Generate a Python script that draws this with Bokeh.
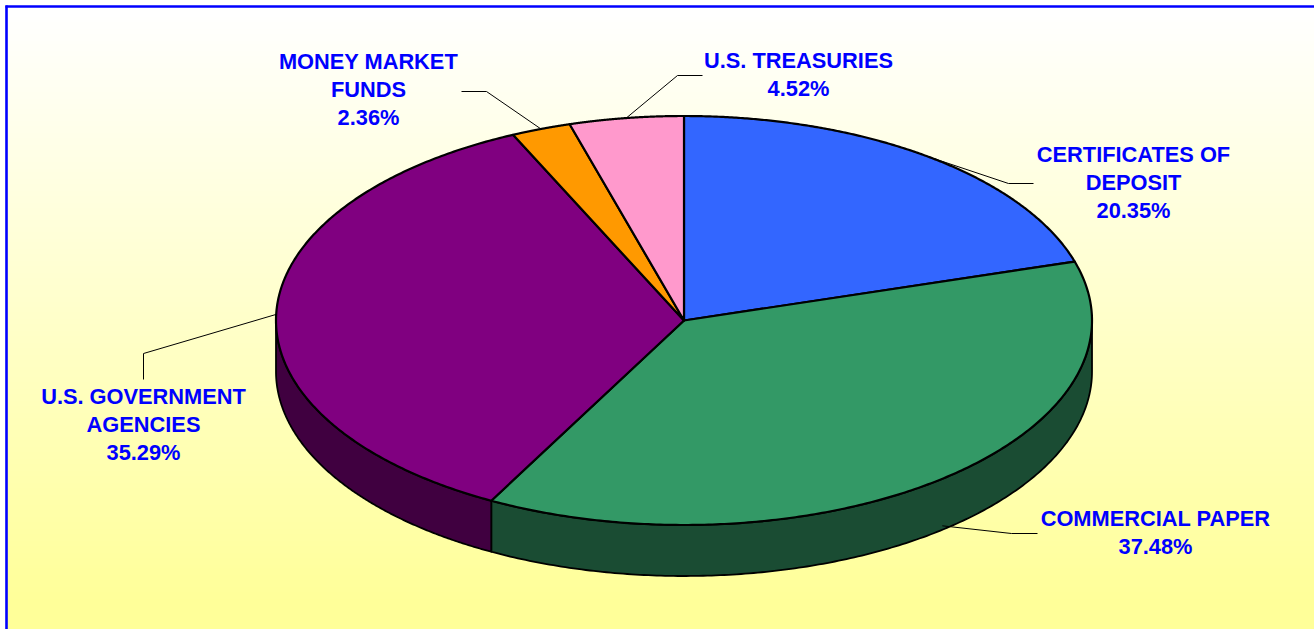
import math
import numpy as np
from bokeh.plotting import figure
from bokeh.embed import file_html
from bokeh.resources import INLINE
from bokeh.core.properties import value

# ---- data ----
categories = ["CERTIFICATES OF DEPOSIT", "COMMERCIAL PAPER", "U.S. GOVERNMENT AGENCIES",
              "MONEY MARKET FUNDS", "U.S. TREASURIES"]
shares = [20.35, 37.48, 35.29, 2.36, 4.52]
label_lines = [["CERTIFICATES OF", "DEPOSIT", "20.35%"],
               ["COMMERCIAL PAPER", "37.48%"],
               ["U.S. GOVERNMENT", "AGENCIES", "35.29%"],
               ["MONEY MARKET", "FUNDS", "2.36%"],
               ["U.S. TREASURIES", "4.52%"]]
top_colors = ["#3366FF", "#339966", "#800080", "#FF9900", "#FF99CC"]
side_colors = ["#1A334D", "#1A4C33", "#400040", "#804C00", "#804C66"]

# ---- layout (reference pixels) ----
W, H = 1314, 629
CX, CY, RX, RY, DEPTH = 683.5, 320, 408, 204.5, 51
label_pos = [(1133, 154), (1155, 518), (143, 396), (368, 61), (798, 60)]
LINE_H = 28
elbows = [[(1008, 183), (1033, 183)], [(1011, 533), (1037, 533)],
          [(143, 353), (143, 379)], [(486, 91), (461, 91)], [(677, 75), (702, 75)]]

p = figure(width=W, height=H, x_range=(0, W), y_range=(H, 0), toolbar_location=None,
           output_backend="svg", min_border=0, outline_line_color=None,
           background_fill_color="white", border_fill_color="white")
p.xaxis.visible = False
p.yaxis.visible = False
p.grid.visible = False


def ex(t):
    return CX + RX * np.sin(t)


def ey(t):
    return CY - RY * np.cos(t)


# background gradient
G_TOP, G_BOT = 6, 600
edges = np.arange(G_TOP, H + 2, 2)
fr = np.clip((edges[:-1] - G_TOP) / (G_BOT - G_TOP), 0, 1)
cols = ["#FFFF%02X" % int(round(255 - (255 - 0x99) * f)) for f in fr]
p.quad(left=6, right=W, top=edges[:-1], bottom=edges[1:] + 0.5, fill_color=cols, line_color=None)
# frame
p.line([6, 6], [H, 5], line_color="#0000FF", line_width=2.6)
p.line([5, W], [6, 6], line_color="#0000FF", line_width=2.6)

cum = np.cumsum([0] + shares) / 100 * 2 * math.pi

# side walls: only the part of each slice facing the viewer
for i in range(len(shares)):
    a, b = max(cum[i], math.pi / 2), min(cum[i + 1], 3 * math.pi / 2)
    if b <= a:
        continue
    t = np.linspace(a, b, 200)
    xs = np.concatenate([ex(t), ex(t[::-1])])
    ys = np.concatenate([ey(t), ey(t[::-1]) + DEPTH])
    p.patch(xs, ys, fill_color=side_colors[i], line_color="black", line_width=1.8, line_join="round")

# leader lines
for i in range(len(shares)):
    mid = (cum[i] + cum[i + 1]) / 2
    x0, y0 = ex(mid), ey(mid)
    if math.pi / 2 < mid < 3 * math.pi / 2 and abs(mid - math.pi) < 1.0:
        y0 += DEPTH - 4
    xs = [x0] + [e[0] for e in elbows[i]]
    ys = [y0] + [e[1] for e in elbows[i]]
    p.line(xs, ys, line_color="black", line_width=1)

# top slices
for i in range(len(shares)):
    t = np.linspace(cum[i], cum[i + 1], 240)
    xs = np.concatenate([[CX], ex(t)])
    ys = np.concatenate([[CY], ey(t)])
    p.patch(xs, ys, fill_color=top_colors[i], line_color="black", line_width=2.2, line_join="round")

# labels
for (lx, ly), lines in zip(label_pos, label_lines):
    p.text([lx] * len(lines), [ly + k * LINE_H for k in range(len(lines))], text=lines,
           text_font=value("Liberation Sans"), text_font_style="bold", text_font_size="21.8px",
           text_color="#0000FF", text_align="center", text_baseline="middle")

open("out.html", "w").write(file_html(p, INLINE))
